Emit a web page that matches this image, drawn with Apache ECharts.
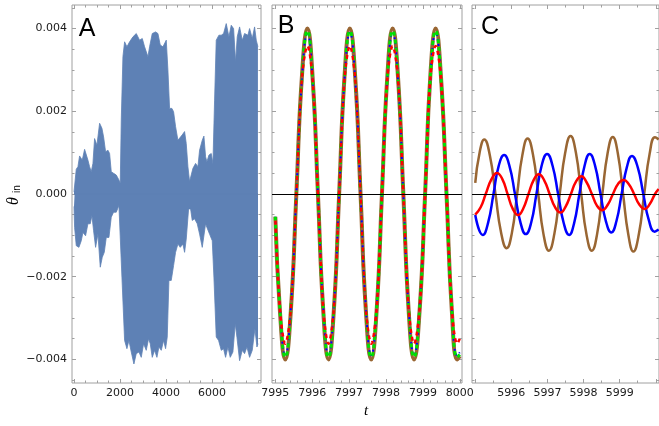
<!DOCTYPE html>
<html><head><meta charset="utf-8">
<script src="https://cdn.jsdelivr.net/npm/echarts@6/dist/echarts.min.js"></script>
<style>html,body{margin:0;padding:0;background:#fff}#c{width:659px;height:426px}</style>
</head><body><div id="c"></div>
<script>
// ---------- Panel A: envelope of the fast oscillation ----------
const tAu = [0,98,171,243,359,461,533,605,678,750,823,895,997,1113,1214,1287,1374,1475,1548,1620,1721,1837,1953,2011,2055,2127,2200,2301,2417,2562,2707,2852,2968,3069,3214,3286,3402,3547,3649,3750,3866,4011,4083,4156,4257,4329,4416,4518,4590,4706,4808,4880,4953,5025,5098,5170,5286,5387,5460,5576,5648,5721,5779,5866,5967,6040,6112,6184,6300,6402,6503,6619,6735,6836,6938,7025,7097,7199,7315,7416,7561,7634,7750,7851,7924,7996];
const vAu = [0.00005,0.00060,0.00066,0.00092,0.00082,0.00108,0.00105,0.00082,0.00066,0.00054,0.00074,0.00134,0.00118,0.00171,0.00159,0.00138,0.00102,0.00106,0.00098,0.00054,0.00050,0.00046,0.00034,0.00026,0.00179,0.00332,0.00368,0.00356,0.00368,0.00380,0.00388,0.00372,0.00376,0.00356,0.00332,0.00356,0.00388,0.00392,0.00388,0.00360,0.00356,0.00372,0.00300,0.00207,0.00207,0.00199,0.00163,0.00130,0.00126,0.00143,0.00151,0.00122,0.00066,0.00030,0.00030,0.00062,0.00074,0.00066,0.00106,0.00130,0.00140,0.00090,0.00078,0.00094,0.00098,0.00074,0.00227,0.00372,0.00384,0.00384,0.00388,0.00412,0.00380,0.00408,0.00400,0.00320,0.00380,0.00404,0.00372,0.00388,0.00384,0.00400,0.00376,0.00404,0.00372,0.00356];
const tAl = [0,26,98,214,316,388,504,605,707,779,852,939,1040,1142,1229,1316,1403,1519,1620,1721,1837,1953,2011,2084,2200,2301,2388,2489,2605,2707,2823,2924,3026,3141,3243,3315,3402,3504,3605,3692,3794,3895,3982,4054,4127,4228,4329,4416,4518,4619,4735,4808,4880,4982,5069,5141,5242,5358,5460,5576,5648,5721,5779,5895,6011,6083,6184,6286,6402,6503,6590,6692,6793,6909,7010,7083,7199,7315,7416,7518,7634,7750,7866,7953,8000];
const vAl = [-0.00030,-0.00081,-0.00125,-0.00129,-0.00113,-0.00093,-0.00101,-0.00072,-0.00072,-0.00052,-0.00089,-0.00129,-0.00097,-0.00177,-0.00153,-0.00141,-0.00105,-0.00105,-0.00056,-0.00044,-0.00044,-0.00028,-0.00024,-0.00201,-0.00354,-0.00374,-0.00354,-0.00382,-0.00411,-0.00386,-0.00382,-0.00395,-0.00362,-0.00378,-0.00350,-0.00362,-0.00395,-0.00378,-0.00395,-0.00370,-0.00378,-0.00354,-0.00374,-0.00346,-0.00209,-0.00209,-0.00173,-0.00141,-0.00121,-0.00129,-0.00121,-0.00141,-0.00109,-0.00036,-0.00036,-0.00064,-0.00060,-0.00072,-0.00097,-0.00129,-0.00133,-0.00072,-0.00081,-0.00097,-0.00113,-0.00201,-0.00346,-0.00354,-0.00378,-0.00374,-0.00395,-0.00370,-0.00395,-0.00382,-0.00314,-0.00346,-0.00403,-0.00378,-0.00386,-0.00370,-0.00395,-0.00378,-0.00326,-0.00370,-0.00362];

// ---------- Panel B ----------
const tB = [7995.00,7995.125,7995.27,7995.42,7995.57,7995.72,7995.87,7996.01,7996.155,7996.30,7996.44,7996.585,7996.73,7996.875,7997.02,7997.165,7997.31,7997.455,7997.60,7997.745,7997.89,7998.035,7998.18,7998.325,7998.47,7998.615,7998.76,7998.91,7999.06,7999.20,7999.345,7999.49,7999.64,7999.785,7999.93,8000.00];
const brownB = [-0.00055,-0.00283,-0.00400,-0.00283,0,0.00283,0.00400,0.00283,0,-0.00283,-0.00400,-0.00283,0,0.00283,0.00400,0.00283,0,-0.00283,-0.00400,-0.00283,0,0.00283,0.00400,0.00283,0,-0.00283,-0.00400,-0.00283,0,0.00283,0.00400,0.00283,0,-0.00283,-0.00400,-0.00392];
const greenB = [-0.00055,-0.00279,-0.00395,-0.00279,0,0.00279,0.00395,0.00279,0,-0.00279,-0.00395,-0.00279,0,0.00279,0.00395,0.00279,0,-0.00279,-0.00395,-0.00279,0,0.00279,0.00395,0.00279,0,-0.00279,-0.00395,-0.00279,0,0.00279,0.00395,0.00279,0,-0.00279,-0.00395,-0.00388];
const blueB = [-0.00055,-0.00276,-0.00390,-0.00276,0,0.00276,0.00390,0.00276,0,-0.00276,-0.00390,-0.00276,0,0.00276,0.00390,0.00276,0,-0.00276,-0.00390,-0.00276,0,0.00276,0.00390,0.00276,0,-0.00276,-0.00390,-0.00276,0,0.00276,0.00390,0.00276,0,-0.00276,-0.00390,-0.00383];
const redB = [-0.00055,-0.00279,-0.00362,-0.00279,0,0.00279,0.00358,0.00279,0,-0.00279,-0.00362,-0.00279,0,0.00279,0.00358,0.00279,0,-0.00279,-0.00362,-0.00279,0,0.00279,0.00358,0.00279,0,-0.00279,-0.00362,-0.00279,0,0.00279,0.00358,0.00279,0,-0.00279,-0.00362,-0.00350];

// ---------- Panel C ----------
const tBrownC = [5995.00,5995.12,5995.25,5995.405,5995.56,5995.715,5995.87,5996.015,5996.16,5996.305,5996.45,5996.60,5996.745,5996.89,5997.04,5997.19,5997.34,5997.49,5997.64,5997.79,5997.935,5998.08,5998.23,5998.375,5998.52,5998.665,5998.81,5998.95,5999.095,5999.24,5999.38,5999.53,5999.68,5999.83,5999.98,6000.08];
const brownC = [0.00027,0.00100,0.00132,0.00093,0,-0.00093,-0.00131,-0.00094,0,0.00094,0.00134,0.00095,0,-0.00097,-0.00137,-0.00097,0,0.00099,0.00140,0.00099,0,-0.00097,-0.00137,-0.00097,0,0.00098,0.00138,0.00098,0,-0.00098,-0.00139,-0.00098,0,0.00097,0.00137,0.00132];
const tBlueC = [5995.00,5995.21,5995.36,5995.505,5995.65,5995.80,5995.95,5996.10,5996.25,5996.40,5996.55,5996.695,5996.84,5996.99,5997.14,5997.295,5997.45,5997.60,5997.74,5997.885,5998.03,5998.17,5998.32,5998.47,5998.62,5998.77,5998.91,5999.055,5999.20,5999.34,5999.50,5999.655,5999.81,5999.97,6000.08];
const blueC = [-0.00051,-0.00099,-0.00068,0,0.00068,0.00094,0.00067,0,-0.00068,-0.00097,-0.00069,0,0.00069,0.00097,0.00069,0,-0.00070,-0.00099,-0.00070,0,0.00069,0.00097,0.00068,0,-0.00066,-0.00093,-0.00066,0,0.00065,0.00092,0.00065,0,-0.00064,-0.00091,-0.00086];
const tRedC = [5995.00,5995.15,5995.29,5995.45,5995.60,5995.75,5995.895,5996.04,5996.19,5996.33,5996.475,5996.62,5996.76,5996.91,5997.06,5997.21,5997.36,5997.50,5997.65,5997.79,5997.94,5998.08,5998.23,5998.37,5998.52,5998.67,5998.815,5998.96,5999.11,5999.25,5999.40,5999.54,5999.69,5999.83,5999.98,6000.08];
const redC = [-0.00050,-0.00032,0,0.00036,0.00051,0.00036,0,-0.00036,-0.00051,-0.00035,0,0.00034,0.00048,0.00033,0,-0.00032,-0.00045,-0.00031,0,0.00030,0.00043,0.00029,0,-0.00028,-0.00039,-0.00026,0,0.00025,0.00034,0.00024,0,-0.00025,-0.00036,-0.00025,0,0.00012];

// ---------- tick labels ----------
const xLabelsA = [0,2000,4000,6000];
const xLabelsB = [7995,7996,7997,7998,7999,8000];
const xLabelsC = [5996,5997,5998,5999];
const yLabels = [-0.004,-0.002,0,0.002,0.004];

// ---------- layout ----------
const FRAME = '#a0a0a0';
const FONT = 'DejaVu Sans';
function zip(a,b){return a.map((v,i)=>[v,b[i]]);}
function steps(a,b,s){const r=[];for(let k=0;;k++){const v=+(a+k*s).toFixed(6);if(v>b+1e-9)break;r.push(v);}return r;}
function notIn(arr,maj){return arr.filter(v=>!maj.some(m=>Math.abs(m-v)<1e-9));}

const panels = [
  {left:72, width:189, xmin:-87, xmax:8130, xMajor:[0,2000,4000,6000], xLab:xLabelsA, xMinor:steps(0,8000,500), yLab:true},
  {left:272, width:190, xmin:7994.91, xmax:8000.06, xMajor:xLabelsB, xLab:xLabelsB, xMinor:steps(7995,8000,0.2), yLab:false},
  {left:472, width:188, xmin:5994.91, xmax:6000.09, xMajor:[5995,5996,5997,5998,5999,6000], xLab:xLabelsC, xMinor:steps(5995,6000,0.5), yLab:false}
];
const YMIN=-0.00457, YMAX=0.00457;
const yMajor = yLabels;
const yMinor = notIn(steps(-0.0045,0.0045,0.0005), yMajor);

function axis(g,pos,min,max,ticks,len,labels,fmt){
  return {type:'value',gridIndex:g,position:pos,min:min,max:max,
    axisLine:{show:false,onZero:false},splitLine:{show:false},
    axisTick:{show:true,inside:true,length:len,customValues:ticks,lineStyle:{color:FRAME,width:1}},
    axisLabel: labels ? {show:true,customValues:labels,formatter:fmt,margin:5,fontSize:11,fontFamily:FONT,color:'#1a1a1a'} : {show:false}
  };
}
const yFmt = v => (v<0?'\u2212':'') + Math.abs(v).toFixed(3);
const xFmt = v => String(Math.round(v));

const grids=[], xAxes=[], yAxes=[];
panels.forEach((p,g)=>{
  grids.push({left:p.left,top:5,width:p.width,height:378,show:true,borderColor:FRAME,borderWidth:1,backgroundColor:'transparent'});
  const xMin = notIn(p.xMinor,p.xMajor);
  xAxes.push(axis(g,'bottom',p.xmin,p.xmax,p.xMajor,4,p.xLab,xFmt));
  xAxes.push(axis(g,'top',p.xmin,p.xmax,p.xMajor,4,null));
  xAxes.push(axis(g,'bottom',p.xmin,p.xmax,xMin,2.5,null));
  xAxes.push(axis(g,'top',p.xmin,p.xmax,xMin,2.5,null));
  yAxes.push(axis(g,'left',YMIN,YMAX,yMajor,4,p.yLab?yLabels:null,yFmt));
  yAxes.push(axis(g,'right',YMIN,YMAX,yMajor,4,null));
  yAxes.push(axis(g,'left',YMIN,YMAX,yMinor,2.5,null));
  yAxes.push(axis(g,'right',YMIN,YMAX,yMinor,2.5,null));
});

const AFILL='#5E81B5';
function line(g,data,color,width,opts){
  return Object.assign({type:'line',xAxisIndex:4*g,yAxisIndex:4*g,data:data,showSymbol:false,symbol:'none',
    lineStyle:{color:color,width:width},itemStyle:{color:color},animation:false,silent:true},opts||{});
}
const zeroLine = (color,width,data)=>({symbol:'none',silent:true,label:{show:false},animation:false,
  lineStyle:{color:color,width:width,type:'solid'},data:data||[{yAxis:0}]});

const series = [
  line(0,zip(tAu,vAu),AFILL,0.8,{areaStyle:{color:AFILL,opacity:1,origin:'auto'}}),
  line(0,zip(tAl,vAl),AFILL,0.8,{areaStyle:{color:AFILL,opacity:1,origin:'auto'},
    markLine:zeroLine(AFILL,1.5,[[{coord:[tAu[0],0]},{coord:[tAl[tAl.length-1],0]}]])}),
  line(1,zip(tB,brownB),'#996633',4,{smooth:0.5}),
  line(1,zip(tB,blueB),'#0000ff',2,{smooth:0.5,lineStyle:{color:'#0000ff',width:2,type:[2,3]}}),
  line(1,zip(tB,greenB),'#00dd00',3,{smooth:0.5,lineStyle:{color:'#00e000',width:3,type:[4,4]}}),
  line(1,zip(tB,redB),'#ff0000',2.5,{smooth:0.35,lineStyle:{color:'#ff0000',width:2.5,type:[4,4],dashOffset:4},markLine:zeroLine('#000',1.2)}),
  line(2,zip(tBrownC,brownC),'#996633',2.5,{smooth:0.5}),
  line(2,zip(tBlueC,blueC),'#0000ff',2.5,{smooth:0.5}),
  line(2,zip(tRedC,redC),'#ff0000',2.5,{smooth:0.5,markLine:zeroLine('#000',1.2)})
];

const txt = (x,y,t,font,rot)=>({type:'text',x:x,y:y,rotation:rot||0,silent:true,
  style:{text:t,font:font,fill:'#000',textAlign:'center',textVerticalAlign:'middle'}});

const chart = echarts.init(document.getElementById('c'),null,{renderer:'canvas'});
chart.setOption({
  animation:false,
  grid:grids, xAxis:xAxes, yAxis:yAxes, series:series,
  graphic:[
    txt(87,29,'A','25px "Liberation Sans"'),
    txt(286,26,'B','25px "Liberation Sans"'),
    txt(490,27,'C','25px "Liberation Sans"'),
    txt(366,411,'t','italic 15px "Liberation Serif"'),
    txt(14,201,'\u03b8','italic 16px "Liberation Serif"',Math.PI/2),
    txt(17,189,'in','10px "Liberation Sans"',Math.PI/2)
  ]
});
</script></body></html>
